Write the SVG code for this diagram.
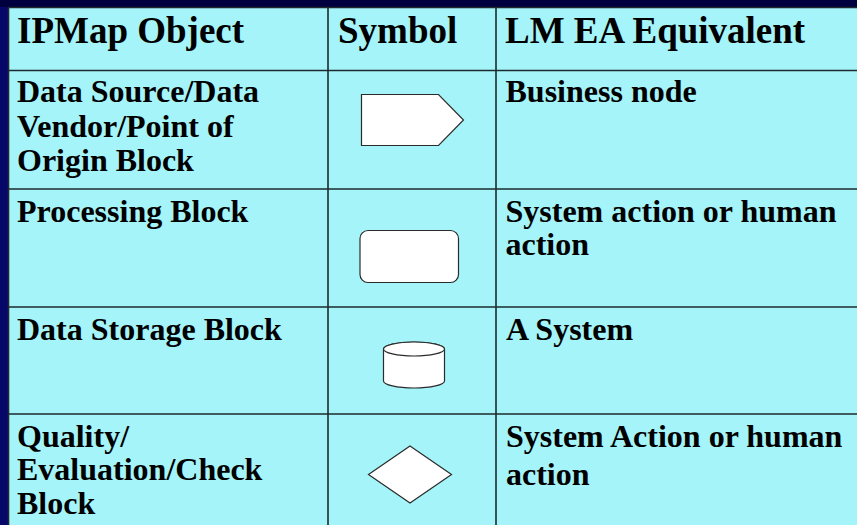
<svg xmlns="http://www.w3.org/2000/svg" width="857" height="525" viewBox="0 0 857 525">
  <style>
    .cell { fill: #a4f4f9; }
    .rule { stroke: #1e2a2e; stroke-width: 1.6; fill: none; }
    .sym { fill: #ffffff; stroke: #2b2b2b; stroke-width: 1.2; }
    .hd { font-family: "Liberation Serif", "Times New Roman", serif; font-weight: bold; font-size: 37px; fill: #000; }
    .tx { font-family: "Liberation Serif", "Times New Roman", serif; font-weight: bold; font-size: 32px; fill: #000; }
  </style>

  <!-- slide background -->
  <rect x="0" y="0" width="857" height="525" fill="#07076a"/>
  <rect x="0" y="0" width="857" height="7" fill="#00003e"/>

  <!-- table body -->
  <rect class="cell" x="8.5" y="7.5" width="849" height="518"/>

  <!-- grid rules -->
  <g id="grid">
    <line class="rule" x1="8.5" y1="7.5" x2="857" y2="7.5"/>
    <line class="rule" x1="8.5" y1="7.5" x2="8.5" y2="525"/>
    <line class="rule" x1="328" y1="7.5" x2="328" y2="525"/>
    <line class="rule" x1="496" y1="7.5" x2="496" y2="525"/>
    <line class="rule" x1="8.5" y1="70.5" x2="857" y2="70.5"/>
    <line class="rule" x1="8.5" y1="189" x2="857" y2="189"/>
    <line class="rule" x1="8.5" y1="307" x2="857" y2="307"/>
    <line class="rule" x1="8.5" y1="414" x2="857" y2="414"/>
  </g>

  <!-- header row -->
  <g id="header">
    <text class="hd" x="17" y="43">IPMap Object</text>
    <text class="hd" x="338" y="43">Symbol</text>
    <text class="hd" x="505" y="43">LM EA Equivalent</text>
  </g>

  <!-- row 1: data source -->
  <g id="data-source">
    <text class="tx" x="17" y="101.5">Data Source/Data</text>
    <text class="tx" x="17" y="136.5">Vendor/Point of</text>
    <text class="tx" x="17" y="170.5">Origin Block</text>
    <polygon class="sym" points="361.5,94.5 438.5,94.5 463.5,120 438.5,145.5 361.5,145.5"/>
    <text class="tx" x="505.5" y="101.5">Business node</text>
  </g>

  <!-- row 2: processing -->
  <g id="processing">
    <text class="tx" x="17" y="222">Processing Block</text>
    <rect class="sym" x="360" y="230.5" width="98.5" height="52" rx="8" ry="8"/>
    <text class="tx" x="505.5" y="221.5">System action or human</text>
    <text class="tx" x="505.5" y="255">action</text>
  </g>

  <!-- row 3: data storage -->
  <g id="data-storage">
    <text class="tx" x="17" y="340">Data Storage Block</text>
    <path class="sym" d="M383.5,349 L383.5,381 A30.5,7 0 0 0 444.5,381 L444.5,349 A30.5,7 0 0 0 383.5,349 Z"/>
    <ellipse class="sym" cx="414" cy="349" rx="30.5" ry="7"/>
    <text class="tx" x="506" y="340">A System</text>
  </g>

  <!-- row 4: quality check -->
  <g id="quality-check">
    <text class="tx" x="17" y="446.5">Quality/</text>
    <text class="tx" x="17" y="480">Evaluation/Check</text>
    <text class="tx" x="17" y="514">Block</text>
    <polygon class="sym" points="410,446 451.5,474.5 410,503 368.5,474.5"/>
    <text class="tx" x="506" y="446.5">System Action or human</text>
    <text class="tx" x="506" y="485">action</text>
  </g>
</svg>
